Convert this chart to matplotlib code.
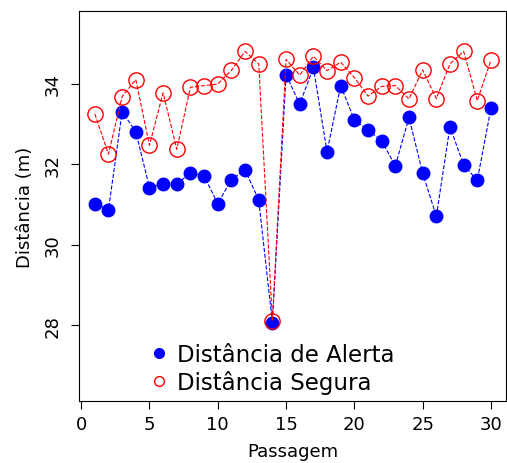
"""
Distância de alerta e distância segura por passagem
"""
import matplotlib
matplotlib.use("Agg")
import matplotlib.pyplot as plt
from matplotlib.lines import Line2D
import numpy as np

passagem = np.arange(1, 31)

dist_alerta = [31.02, 30.87, 33.30, 32.81, 31.42, 31.52, 31.50, 31.79, 31.71, 31.02,
               31.62, 31.86, 31.11, 28.07, 34.22, 33.49, 34.40, 32.31, 33.95, 33.10,
               32.85, 32.58, 31.96, 33.16, 31.78, 30.71, 32.93, 31.98, 31.60, 33.39]

dist_segura = [33.25, 32.25, 33.68, 34.10, 32.47, 33.77, 32.37, 33.91, 33.95, 33.99,
               34.33, 34.80, 34.49, 28.12, 34.60, 34.21, 34.68, 34.32, 34.53, 34.15,
               33.69, 33.93, 33.95, 33.62, 34.34, 33.63, 34.49, 34.80, 33.58, 34.58]

y_ticks = [28, 30, 32, 34]
x_ticks = [0, 5, 10, 15, 20, 25, 30]

fig = plt.figure(figsize=(5.07, 4.64), dpi=100)
ax = fig.add_axes([0.156, 0.134, 0.842, 0.840])

# series: filled blue for alert, open red for safe distance
ax.plot(passagem, dist_alerta, linestyle="--", linewidth=0.8, color="blue",
        marker="o", markersize=9, markerfacecolor="blue", markeredgecolor="blue")
ax.plot(passagem, dist_segura, linestyle="--", linewidth=0.8, color="red",
        marker="o", markersize=11, markerfacecolor="none", markeredgecolor="red",
        markeredgewidth=1.0)

ax.set_xlim(-0.15, 31.1)
ax.set_ylim(26.13, 35.8)
ax.set_xticks(x_ticks)
ax.set_yticks(y_ticks)
ax.tick_params(axis="both", labelsize=13, length=5.5)
ax.tick_params(axis="x", pad=5)
ax.tick_params(axis="y", pad=7)
for lbl in ax.get_yticklabels():
    lbl.set_rotation(90)
    lbl.set_va("center")

ax.set_xlabel("Passagem", fontsize=13, labelpad=6)
ax.set_ylabel("Distância (m)", fontsize=13, labelpad=7)

# legend shows only the point symbols
handles = [
    Line2D([], [], linestyle="none", marker="o", markersize=7,
           markerfacecolor="blue", markeredgecolor="blue"),
    Line2D([], [], linestyle="none", marker="o", markersize=7,
           markerfacecolor="none", markeredgecolor="red", markeredgewidth=1.0),
]
ax.legend(handles, ["Distância de Alerta", "Distância Segura"],
          loc="lower center", bbox_to_anchor=(0.45, -0.035), frameon=False,
          fontsize=16.5, handletextpad=0.3, labelspacing=0.15, handlelength=1.0)

fig.savefig("out.png", dpi=100)
